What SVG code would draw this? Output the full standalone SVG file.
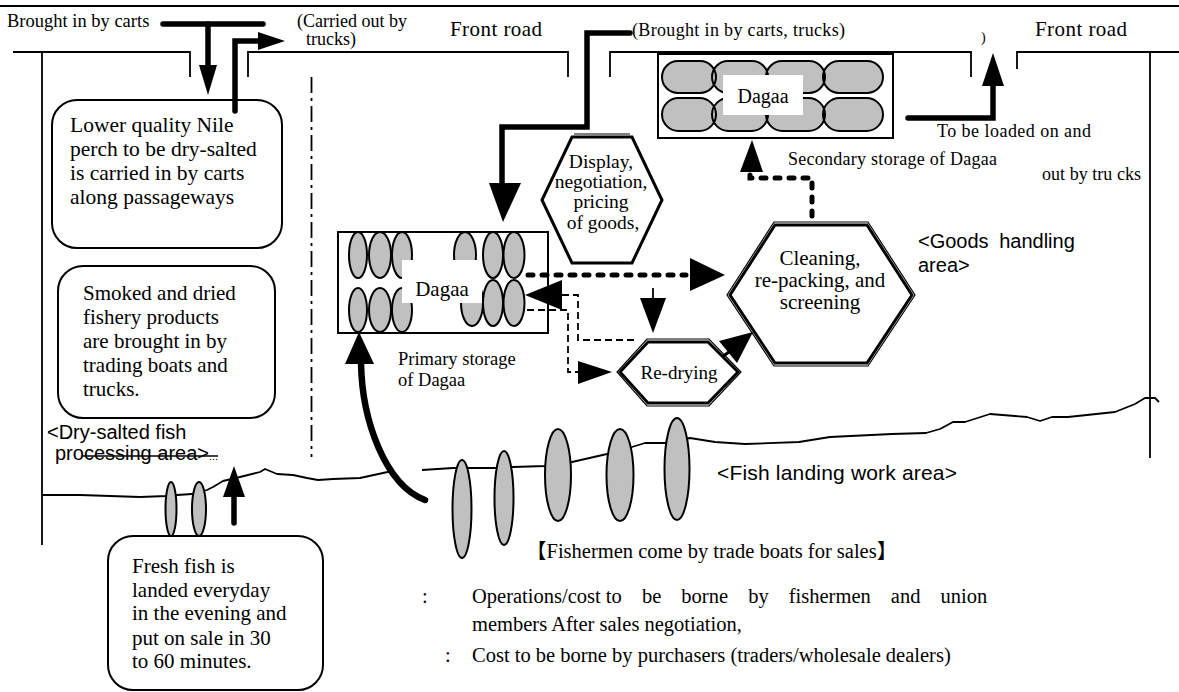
<svg xmlns="http://www.w3.org/2000/svg" width="1179" height="692" viewBox="0 0 1179 692">
<style>
.s{font-family:'Liberation Serif','Times New Roman','Noto Sans CJK JP',serif;fill:#000}
.a{font-family:'Liberation Sans',Arial,sans-serif;fill:#000}
.road{fill:none;stroke:#000;stroke-width:1.8}
.thick{fill:none;stroke:#000;stroke-width:5.5;stroke-linecap:round;stroke-linejoin:miter}
.ah{fill:#000;stroke:none}
.dots{fill:none;stroke:#000;stroke-width:5;stroke-linecap:round;stroke-dasharray:5 9}
.thin{fill:none;stroke:#000;stroke-width:1.8;stroke-dasharray:7 4}
.fishfill{fill:#c0c0c0;stroke:none}
.outline{fill:none;stroke:#000;stroke-width:2}
.fish{fill:#c0c0c0;stroke:#000;stroke-width:2}
.box{fill:#fff;stroke:#000;stroke-width:2}
.hex{fill:#fff;stroke:#000;stroke-width:3;stroke-linejoin:miter}
.hex2{fill:none;stroke:#000;stroke-width:1.2}
.shore{fill:none;stroke:#000;stroke-width:1.8;stroke-linejoin:round}
</style>

<g id="site">
  <line x1="0" y1="6" x2="1179" y2="6" class="road"/>
  <polyline points="13,52 190,52 190,77" class="road"/>
  <polyline points="248,77 248,52 568,52 568,77" class="road"/>
  <polyline points="610,77 610,52 971,52 971,77" class="road"/>
  <polyline points="1017,69 1017,52 1179,52" class="road"/>
  <line x1="42" y1="52" x2="42" y2="545" class="road"/>
  <line x1="1150" y1="52" x2="1150" y2="458" class="road"/>
  <line x1="311.5" y1="77" x2="311.5" y2="457" class="road" stroke-dasharray="16 5 3 5"/>
  <path class="shore" d="M42 495 L80 495 110 496 140 497 167 496 177 495 192 494 207 490 213 487 223 481 240 477 260 472 265 469 277 474 293 475 307 478 318 480 333 479 360 478 383 473 392 471"/>
  <path class="shore" d="M422 470 L453 468 495 468 513 467 545 466 572 462 607 454 632 447 645 443 665 443 690 438 715 442 745 444 799 442 830 437 892 434 926 433 940 429 953 422 965 422 990 414 1027 417 1040 421 1052 417 1068 417 1115 412 1135 404 1145 398 1155 398 1159 402"/>
  <line x1="82" y1="456" x2="218" y2="456" stroke="#000" stroke-width="1.5"/>
</g>

<g id="boats">
  <ellipse class="fish" cx="171" cy="509" rx="5.5" ry="27"/>
  <ellipse class="fish" cx="199" cy="509" rx="7" ry="27"/>
  <ellipse class="fish" cx="462" cy="509" rx="9.5" ry="49"/>
  <ellipse class="fish" cx="504" cy="498" rx="9.5" ry="47"/>
  <ellipse class="fish" cx="558" cy="475" rx="13" ry="46"/>
  <ellipse class="fish" cx="620" cy="475" rx="13.5" ry="46"/>
  <ellipse class="fish" cx="677" cy="469" rx="12.5" ry="51"/>
</g>

<g id="labels">
  <text class="s" x="7" y="27" font-size="18.5">Brought in by carts</text>
  <text class="s" x="297" y="27" font-size="18">(Carried out by</text>
  <text class="s" x="306" y="45" font-size="18">trucks)</text>
  <text class="s" x="450" y="36" font-size="21" textLength="92">Front road</text>
  <text class="s" x="632" y="36" font-size="18" textLength="213">(Brought in by carts, trucks)</text>
  <text class="s" x="981" y="42" font-size="14">)</text>
  <text class="s" x="1035" y="36" font-size="21" textLength="92">Front road</text>
  <text class="s" x="937" y="137" font-size="18" textLength="154">To be loaded on and</text>
  <text class="s" x="788" y="165" font-size="18" textLength="209">Secondary storage of Dagaa</text>
  <text class="s" x="1042" y="180" font-size="18" textLength="99">out by tru cks</text>
  <text class="a" x="918" y="248" font-size="20" word-spacing="5">&lt;Goods handling</text>
  <text class="a" x="918" y="272" font-size="20">area&gt;</text>
  <text class="s" x="398" y="365" font-size="18.5">Primary storage</text>
  <text class="s" x="398" y="386" font-size="18.5">of Dagaa</text>
  <text class="a" x="47" y="439" font-size="20">&lt;Dry-salted fish</text>
  <text class="a" x="55" y="460" font-size="20">processing area&gt;<tspan font-size="11">...</tspan></text>
  <text class="a" x="717" y="480" font-size="21" textLength="240">&lt;Fish landing work area&gt;</text>
  <text class="s" x="526" y="558" font-size="20.5">【Fishermen come by trade boats for sales】</text>
  <text class="s" x="422" y="603" font-size="20.5">:</text>
  <text class="s" x="472" y="603" font-size="20.5">Operations/cost to<tspan word-spacing="15"> be borne by fishermen and union</tspan></text>
  <text class="s" x="472" y="631" font-size="20.5">members After sales negotiation,</text>
  <text class="s" x="445" y="662" font-size="20.5">:</text>
  <text class="s" x="472" y="662" font-size="20.5">Cost to be borne by purchasers (traders/wholesale dealers)</text>
</g>

<g id="box-lower-quality">
  <rect class="box" x="52" y="100" width="230" height="148" rx="25"/>
  <text class="s" x="70" y="132" font-size="21.5">Lower quality Nile</text>
  <text class="s" x="70" y="156" font-size="21.5">perch to be dry-salted</text>
  <text class="s" x="70" y="180" font-size="21.5">is carried in by carts</text>
  <text class="s" x="70" y="204" font-size="21.5">along passageways</text>
</g>

<g id="box-smoked">
  <rect class="box" x="58" y="266" width="217" height="152" rx="25"/>
  <text class="s" x="83" y="300" font-size="21">Smoked and dried</text>
  <text class="s" x="83" y="324" font-size="21">fishery products</text>
  <text class="s" x="83" y="348" font-size="21">are brought in by</text>
  <text class="s" x="83" y="372" font-size="21">trading boats and</text>
  <text class="s" x="83" y="396" font-size="21">trucks.</text>
</g>

<g id="box-fresh">
  <rect class="box" x="108" y="536" width="215" height="154" rx="25"/>
  <text class="s" x="132" y="573" font-size="21">Fresh fish is</text>
  <text class="s" x="132" y="597" font-size="21">landed everyday</text>
  <text class="s" x="132" y="620" font-size="21">in the evening and</text>
  <text class="s" x="132" y="645" font-size="21">put on sale in 30</text>
  <text class="s" x="132" y="668" font-size="21">to 60 minutes.</text>
</g>

<g id="secondary-storage">
  <rect x="658" y="54" width="235" height="84" fill="#fff" stroke="#000" stroke-width="2"/>
  <g class="fishfill">
    <rect x="662" y="61" width="54" height="32" rx="16"/>
    <rect x="712" y="61" width="56" height="32" rx="16"/>
    <rect x="766" y="61" width="59" height="32" rx="16"/>
    <rect x="823" y="61" width="60" height="32" rx="16"/>
    <rect x="662" y="98" width="54" height="33" rx="16.5"/>
    <rect x="712" y="98" width="56" height="33" rx="16.5"/>
    <rect x="766" y="98" width="59" height="33" rx="16.5"/>
    <rect x="823" y="98" width="60" height="33" rx="16.5"/>
  </g>
  <g class="outline">
    <rect x="662" y="61" width="54" height="32" rx="16"/>
    <rect x="712" y="61" width="56" height="32" rx="16"/>
    <rect x="766" y="61" width="59" height="32" rx="16"/>
    <rect x="823" y="61" width="60" height="32" rx="16"/>
    <rect x="662" y="98" width="54" height="33" rx="16.5"/>
    <rect x="712" y="98" width="56" height="33" rx="16.5"/>
    <rect x="766" y="98" width="59" height="33" rx="16.5"/>
    <rect x="823" y="98" width="60" height="33" rx="16.5"/>
  </g>
  <rect x="723" y="75" width="80" height="40" fill="#fff"/>
  <text class="s" x="763" y="103" font-size="20" text-anchor="middle">Dagaa</text>
</g>

<g id="primary-storage">
  <rect x="338" y="232" width="210" height="101" fill="#fff" stroke="#000" stroke-width="2"/>
  <g class="fishfill">
    <ellipse cx="358" cy="255" rx="9" ry="23"/>
    <ellipse cx="380" cy="255" rx="11" ry="23"/>
    <ellipse cx="402" cy="255" rx="10" ry="23"/>
    <ellipse cx="358" cy="310" rx="9" ry="22"/>
    <ellipse cx="380" cy="310" rx="11" ry="22"/>
    <ellipse cx="402" cy="310" rx="10" ry="22"/>
    <ellipse cx="465" cy="255" rx="11" ry="23"/>
    <ellipse cx="493" cy="255" rx="10" ry="23"/>
    <ellipse cx="514" cy="255" rx="10.5" ry="23"/>
    <ellipse cx="472" cy="303" rx="11" ry="23"/>
    <ellipse cx="493" cy="303" rx="10" ry="23"/>
    <ellipse cx="514" cy="303" rx="10.5" ry="23"/>
  </g>
  <g class="outline">
    <ellipse cx="358" cy="255" rx="9" ry="23"/>
    <ellipse cx="380" cy="255" rx="11" ry="23"/>
    <ellipse cx="402" cy="255" rx="10" ry="23"/>
    <ellipse cx="358" cy="310" rx="9" ry="22"/>
    <ellipse cx="380" cy="310" rx="11" ry="22"/>
    <ellipse cx="402" cy="310" rx="10" ry="22"/>
    <ellipse cx="465" cy="255" rx="11" ry="23"/>
    <ellipse cx="493" cy="255" rx="10" ry="23"/>
    <ellipse cx="514" cy="255" rx="10.5" ry="23"/>
    <ellipse cx="472" cy="303" rx="11" ry="23"/>
    <ellipse cx="493" cy="303" rx="10" ry="23"/>
    <ellipse cx="514" cy="303" rx="10.5" ry="23"/>
  </g>
  <rect x="402" y="260" width="80" height="43" fill="#fff"/>
  <text class="s" x="442" y="296" font-size="21" text-anchor="middle">Dagaa</text>
</g>

<g id="hex-display">
  <polygon class="hex" points="572,137 632,137 662,200 632,263 572,263 542,200"/>
  <line x1="574" y1="134" x2="630" y2="134" stroke="#000" stroke-width="1.2"/>
  <text class="s" x="601" y="168" font-size="19.5" text-anchor="middle">Display,</text>
  <text class="s" x="601" y="188" font-size="19.5" text-anchor="middle">negotiation,</text>
  <text class="s" x="601" y="208" font-size="19.5" text-anchor="middle">pricing</text>
  <text class="s" x="603" y="229" font-size="19.5" text-anchor="middle">of goods,</text>
</g>

<g id="hex-cleaning">
  <polygon class="hex" points="775,225 867,225 912,295 867,363 775,363 730,295"/>
  <polygon class="hex2" points="774,222 868,222 915,295 868,366 774,366 727,295"/>
  <text class="s" x="820" y="265" font-size="21" text-anchor="middle">Cleaning,</text>
  <text class="s" x="820" y="287" font-size="21" text-anchor="middle">re-packing, and</text>
  <text class="s" x="820" y="309" font-size="21" text-anchor="middle">screening</text>
</g>

<g id="hex-redrying">
  <polygon class="hex" points="648,342 708,342 738,372 708,403 648,403 620,372"/>
  <polygon class="hex2" points="647,339 709,339 741,372 709,406 647,406 617,372"/>
  <text class="s" x="679" y="379" font-size="19" text-anchor="middle">Re-drying</text>
</g>

<g id="connectors">
  <polyline class="thick" points="163,24 263,24"/>
  <line class="thick" x1="208" y1="24" x2="208" y2="67"/>
  <polygon class="ah" points="199,65 217,65 208,95"/>
  <polyline class="thick" points="235,111 235,41 259,41" stroke-linecap="butt"/>
  <polygon class="ah" points="258,32 258,50 285,41"/>
  <polyline class="thick" points="630,33 587,33 587,127 502,127 502,186" stroke-width="6"/>
  <polygon class="ah" points="489,183 521,183 503,222"/>
  <polyline class="thick" points="908,118 993,118 993,85" stroke-width="6"/>
  <polygon class="ah" points="982,86 1004,86 993,53"/>
  <path class="dots" d="M528 275 H686"/>
  <polygon class="ah" points="690,258 690,291 725,275"/>
  <path class="dots" d="M812 216 V178 H750 V172"/>
  <polygon class="ah" points="740,172 763,172 752,140"/>
  <path class="thin" d="M634 340 H578 V295 H562"/>
  <polygon class="ah" points="562,280 562,310 525,295"/>
  <path class="thin" d="M527 310 H568 V372 H578"/>
  <polygon class="ah" points="578,361 578,384 612,372"/>
  <line x1="653" y1="288" x2="653" y2="299" stroke="#000" stroke-width="1.8"/>
  <polygon class="ah" points="640,298 666,298 653,333"/>
  <line x1="722" y1="357" x2="740" y2="344" stroke="#000" stroke-width="3"/>
  <polygon class="ah" points="719,341 737,363 753,332"/>
  <path d="M425 500 C385 485 362 420 361 363" fill="none" stroke="#000" stroke-width="6.5" stroke-linecap="round"/>
  <polygon class="ah" points="345,364 374,364 359,332"/>
  <line x1="234" y1="523" x2="234" y2="496" stroke="#000" stroke-width="5.5" stroke-linecap="round"/>
  <polygon class="ah" points="223,497 245,497 234,466"/>
</g>
</svg>
